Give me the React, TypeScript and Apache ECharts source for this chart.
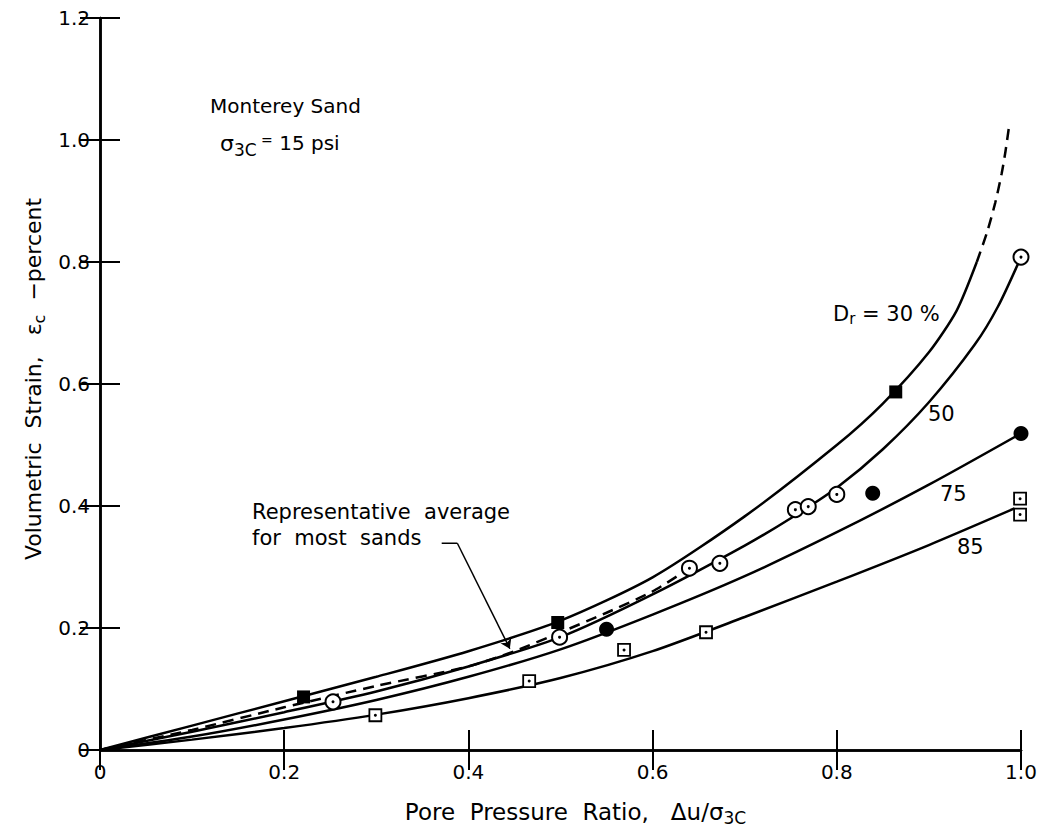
import React, { useEffect, useRef } from "react";
import * as echarts from "echarts";

// ---- data ----
const xTickValues = [0, 0.2, 0.4, 0.6, 0.8, 1.0];
const yTickValues = [0, 0.2, 0.4, 0.6, 0.8, 1.0, 1.2];

// fitted curves (x = pore pressure ratio, y = volumetric strain %)
const dr30Curve = [
  [0, 0], [0.1, 0.04], [0.2, 0.08], [0.3, 0.12], [0.4, 0.162], [0.5, 0.212],
  [0.6, 0.283], [0.7, 0.383], [0.8, 0.5], [0.85, 0.568], [0.9, 0.652], [0.93, 0.72], [0.952, 0.8],
];
const dr30Extension = [
  [0.952, 0.8], [0.963, 0.848], [0.972, 0.897], [0.979, 0.945], [0.983, 0.98], [0.987, 1.022],
];
const dr50Curve = [
  [0, 0], [0.1, 0.03], [0.2, 0.062], [0.3, 0.096], [0.4, 0.137], [0.5, 0.185],
  [0.6, 0.255], [0.7, 0.335], [0.75, 0.38], [0.8, 0.43], [0.85, 0.493], [0.9, 0.57],
  [0.95, 0.665], [0.975, 0.727], [1.0, 0.808],
];
const dr75Curve = [
  [0, 0], [0.1, 0.022], [0.2, 0.05], [0.3, 0.082], [0.4, 0.12], [0.5, 0.165],
  [0.6, 0.222], [0.7, 0.285], [0.8, 0.357], [0.9, 0.435], [1.0, 0.519],
];
const dr85Curve = [
  [0, 0], [0.1, 0.017], [0.2, 0.036], [0.3, 0.058], [0.4, 0.085], [0.5, 0.118],
  [0.6, 0.162], [0.7, 0.218], [0.8, 0.276], [0.9, 0.336], [0.993, 0.396],
];
const averageCurve = [
  [0, 0], [0.1, 0.033], [0.2, 0.07], [0.3, 0.105], [0.4, 0.137], [0.45, 0.162],
  [0.5, 0.193], [0.55, 0.225], [0.6, 0.26], [0.635, 0.293],
];

// measured points
const dr30Points = [[0.221, 0.087], [0.497, 0.209], [0.864, 0.587]];
const dr50Points = [
  [0.253, 0.079], [0.499, 0.185], [0.64, 0.298], [0.673, 0.306], [0.755, 0.394],
  [0.769, 0.399], [0.8, 0.419], [1.0, 0.808],
];
const dr75Points = [[0.55, 0.198], [0.839, 0.421], [1.0, 0.519]];
const dr85Points = [
  [0.299, 0.057], [0.466, 0.113], [0.569, 0.164], [0.658, 0.193], [0.999, 0.412], [0.999, 0.386],
];

// annotation leader (Representative average)
const leaderTail = [[0.371, 0.339], [0.388, 0.339]];
const leaderArrow = [[0.388, 0.339], [0.445, 0.166]];

const FONT = "DejaVu Sans";

export default function App() {
  const ref = useRef<HTMLDivElement>(null);

  useEffect(() => {
    if (!ref.current) return;
    const chart = echarts.init(ref.current, null, { renderer: "svg" });
    const black = "#000";
    const lineStyle = { color: black, width: 2.5 };
    const fmt = (v: number) => (v === 0 ? "0" : v.toFixed(1));

    const curve = (name: string, data: number[][], dashed = false) => ({
      name,
      type: "line",
      data,
      smooth: 0.25,
      showSymbol: false,
      symbol: "none",
      silent: true,
      lineStyle: dashed ? { ...lineStyle, type: [11, 7] } : lineStyle,
      z: 2,
    });

    const option: any = {
      animation: false,
      backgroundColor: "#fff",
      textStyle: { fontFamily: FONT, color: black },
      grid: { left: 100, right: 23, top: 18, bottom: 81 },
      xAxis: [
        {
          type: "value",
          min: 0,
          max: 1,
          interval: 0.2,
          position: "bottom",
          axisLine: { show: true, lineStyle: { color: black, width: 2.5 } },
          axisTick: { show: true, inside: true, length: 20, lineStyle: { color: black, width: 2 } },
          splitLine: { show: false },
          axisLabel: {
            color: black,
            fontSize: 20,
            fontFamily: FONT,
            margin: 12,
            formatter: (v: number) => (xTickValues.includes(Math.round(v * 10) / 10) ? fmt(v) : ""),
          },
          name: "{n|Pore  Pressure  Ratio,   Δu/σ}{s|3C}",
          nameLocation: "middle",
          nameGap: 47,
          nameTextStyle: {
            padding: [0, 0, 0, 30],
            rich: {
              n: { fontSize: 23, fontFamily: FONT, color: black },
              s: { fontSize: 17, fontFamily: FONT, color: black, padding: [12, 0, 0, 0] },
            },
          },
        },
        {
          type: "value",
          min: 0,
          max: 1,
          interval: 0.2,
          position: "top",
          axisLine: { show: true, lineStyle: { color: black, width: 2.5 } },
          axisTick: { show: true, inside: true, length: 20, lineStyle: { color: black, width: 2 } },
          axisLabel: { show: false },
          splitLine: { show: false },
        },
      ],
      yAxis: [
        {
          type: "value",
          min: 0,
          max: 1.2,
          interval: 0.2,
          position: "left",
          axisLine: { show: true, lineStyle: { color: black, width: 2.5 } },
          axisTick: { show: true, inside: true, length: 20, lineStyle: { color: black, width: 2 } },
          splitLine: { show: false },
          axisLabel: {
            color: black,
            fontSize: 20,
            fontFamily: FONT,
            margin: 10,
            formatter: (v: number) => (yTickValues.includes(Math.round(v * 10) / 10) ? fmt(v) : ""),
          },
          name: "{n|Volumetric  Strain,   ε}{s|c}{n|  −percent}",
          nameLocation: "middle",
          nameGap: 53,
          nameRotate: 90,
          nameTextStyle: {
            padding: [0, 0, 0, 10],
            rich: {
              n: { fontSize: 22, fontFamily: FONT, color: black },
              s: { fontSize: 16, fontFamily: FONT, color: black, padding: [11, 0, 0, 0] },
            },
          },
        },
        {
          type: "value",
          min: 0,
          max: 1.2,
          interval: 0.2,
          position: "right",
          axisLine: { show: true, lineStyle: { color: black, width: 2.5 } },
          axisTick: { show: true, inside: true, length: 20, lineStyle: { color: black, width: 2 } },
          axisLabel: { show: false },
          splitLine: { show: false },
        },
      ],
      series: [
        curve("Dr = 30 %", dr30Curve),
        curve("Dr = 30 % extension", dr30Extension, true),
        curve("Dr = 50 %", dr50Curve),
        curve("Dr = 75 %", dr75Curve),
        curve("Dr = 85 %", dr85Curve),
        curve("Representative average", averageCurve, true),
        {
          name: "leader tail",
          type: "line",
          data: leaderTail,
          showSymbol: false,
          symbol: "none",
          silent: true,
          lineStyle: { color: black, width: 1.5 },
        },
        {
          name: "leader arrow",
          type: "lines",
          coordinateSystem: "cartesian2d",
          symbol: ["none", "arrow"],
          symbolSize: 9,
          silent: true,
          lineStyle: { color: black, width: 1.5, opacity: 1 },
          data: [{ coords: leaderArrow }],
          z: 4,
        },
        {
          name: "Dr 30 points",
          type: "scatter",
          data: dr30Points,
          symbol: "rect",
          symbolSize: 13,
          itemStyle: { color: black, opacity: 1 },
          z: 5,
        },
        {
          name: "Dr 50 points",
          type: "scatter",
          data: dr50Points,
          symbol: "circle",
          symbolSize: 15,
          itemStyle: { color: "#fff", borderColor: black, borderWidth: 2, opacity: 1 },
          z: 5,
        },
        {
          name: "Dr 50 dots",
          type: "scatter",
          data: dr50Points,
          symbol: "circle",
          symbolSize: 3,
          itemStyle: { color: black, opacity: 1 },
          z: 6,
        },
        {
          name: "Dr 75 points",
          type: "scatter",
          data: dr75Points,
          symbol: "circle",
          symbolSize: 15,
          itemStyle: { color: black, opacity: 1 },
          z: 5,
        },
        {
          name: "Dr 85 points",
          type: "scatter",
          data: dr85Points,
          symbol: "rect",
          symbolSize: 12,
          itemStyle: { color: "#fff", borderColor: black, borderWidth: 1.8, opacity: 1 },
          z: 5,
        },
        {
          name: "Dr 85 dots",
          type: "scatter",
          data: dr85Points,
          symbol: "circle",
          symbolSize: 3,
          itemStyle: { color: black, opacity: 1 },
          z: 6,
        },
      ],
      graphic: [
        {
          type: "text",
          left: 210,
          top: 96,
          style: { text: "Monterey Sand", font: `20px '${FONT}'`, fill: black },
        },
        {
          type: "text",
          left: 220,
          top: 132,
          style: {
            text: "{g|σ}{s|3C}{e| =}{n| 15 psi}",
            fill: black,
            rich: {
              g: { fontSize: 22, fontFamily: FONT, fill: black },
              s: { fontSize: 17, fontFamily: FONT, fill: black, padding: [14, 0, 0, 0] },
              e: { fontSize: 14, fontFamily: FONT, fill: black, padding: [0, 0, 6, 0] },
              n: { fontSize: 20, fontFamily: FONT, fill: black },
            },
          },
        },
        {
          type: "text",
          left: 252,
          top: 499,
          style: {
            text: "Representative  average\nfor  most  sands",
            font: `21px '${FONT}'`,
            lineHeight: 26,
            fill: black,
          },
        },
        {
          type: "text",
          left: 833,
          top: 303,
          style: {
            text: "{n|D}{s|r}{n| = 30 %}",
            fill: black,
            rich: {
              n: { fontSize: 21, fontFamily: FONT, fill: black },
              s: { fontSize: 15, fontFamily: FONT, fill: black, padding: [10, 0, 0, 0] },
            },
          },
        },
        { type: "text", left: 928, top: 403, style: { text: "50", font: `21px '${FONT}'`, fill: black } },
        { type: "text", left: 940, top: 483, style: { text: "75", font: `21px '${FONT}'`, fill: black } },
        { type: "text", left: 957, top: 536, style: { text: "85", font: `21px '${FONT}'`, fill: black } },
      ],
    };
    chart.setOption(option);
    return () => chart.dispose();
  }, []);

  return (
    <div
      ref={ref}
      style={{ position: "fixed", left: 0, top: 0, width: 1044, height: 831, background: "#fff" }}
    />
  );
}
